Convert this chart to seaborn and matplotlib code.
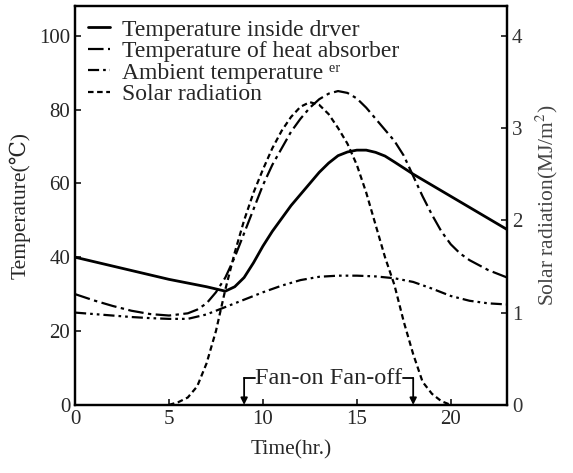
import matplotlib
matplotlib.use('Agg')
import matplotlib.pyplot as plt
import seaborn as sns

# Temperature inside dryer (solid)
t_dryer = [0, 1, 2, 3, 4, 5, 6, 7, 8, 8.5, 9, 9.5, 10, 10.5, 11, 11.5, 12, 12.5, 13,
           13.5, 14, 14.5, 15, 15.5, 16, 16.5, 17, 18, 19, 20, 21, 22, 23]
temp_dryer = [40, 38.8, 37.6, 36.4, 35.2, 34.0, 33.0, 32.0, 30.8, 32, 34.5, 38.5, 43, 47,
              50.5, 54, 57, 60, 63, 65.5, 67.5, 68.5, 69, 69, 68.4, 67.4, 65.8, 62.5, 59.5,
              56.5, 53.5, 50.5, 47.5]

# Temperature of heat absorber (dash-dot)
t_absorber = [0, 1, 2, 3, 4, 5, 6, 6.5, 7, 7.5, 8, 8.5, 9, 9.5, 10, 10.5, 11, 11.5, 12,
              12.5, 13, 13.5, 14, 14.5, 15, 15.5, 16, 16.5, 17, 17.5, 18, 18.5, 19,
              19.5, 20, 20.5, 21, 22, 23]
temp_absorber = [30, 28.3, 26.8, 25.5, 24.6, 24.2, 24.8, 25.8, 27.5, 30.5, 34.5, 40, 46.5,
                 53, 59.5, 65, 69.5, 74, 77.5, 80.5, 82.8, 84.3, 85, 84.5, 83, 80.5, 77.5,
                 74.5, 71.5, 67.5, 62, 56.5, 51.5, 47, 43.5, 41, 39.2, 36.5, 34.5]

# Ambient temperature (dash-dot-dot)
t_ambient = [0, 1, 2, 3, 4, 5, 6, 7, 8, 9, 10, 11, 12, 13, 14, 15, 16, 17, 18, 19, 20,
             21, 22, 23]
temp_ambient = [25, 24.6, 24.2, 23.8, 23.5, 23.3, 23.3, 24.5, 26.5, 28.5, 30.5, 32.3, 33.8,
                34.7, 35, 35, 34.8, 34.3, 33.3, 31.5, 29.5, 28.2, 27.5, 27.2]

# Solar radiation, MJ/m2 (dashed, right axis)
t_solar = [5, 5.5, 6, 6.5, 7, 7.5, 8, 8.5, 9, 9.5, 10, 10.5, 11, 11.5, 12, 12.5, 13,
           13.5, 14, 14.5, 15, 15.5, 16, 16.5, 17, 17.5, 18, 18.5, 19, 19.5, 20]
solar = [0, 0.03, 0.08, 0.2, 0.45, 0.8, 1.25, 1.65, 2.0, 2.3, 2.55, 2.78, 2.97, 3.12,
         3.23, 3.28, 3.25, 3.15, 3.0, 2.83, 2.6, 2.3, 1.95, 1.6, 1.3, 0.9, 0.55, 0.25,
         0.12, 0.04, 0]

fan_on, fan_off = 9, 18

sns.set_style('ticks')
plt.rcParams['font.family'] = ['Liberation Serif', 'DejaVu Serif']
plt.rcParams['mathtext.fontset'] = 'stix'

fig, ax = plt.subplots(figsize=(5.73, 4.73), dpi=100)
fig.subplots_adjust(left=0.131, right=0.885, bottom=0.144, top=0.987)
ax2 = ax.twinx()

sns.lineplot(x=t_dryer, y=temp_dryer, ax=ax, color='black', lw=2.0,
             label='Temperature inside drver', legend=False)
sns.lineplot(x=t_absorber, y=temp_absorber, ax=ax, color='black', lw=1.6,
             linestyle=(0, (7, 2, 1.5, 2)), label='Temperature of heat absorber', legend=False)
sns.lineplot(x=t_ambient, y=temp_ambient, ax=ax, color='black', lw=1.6,
             linestyle=(0, (5, 1.8, 1.2, 1.8, 1.2, 1.8)),
             label='Ambient temperature \u1d49\u02b3', legend=False)
sns.lineplot(x=t_solar, y=solar, ax=ax2, color='black', lw=1.6,
             linestyle=(0, (2.5, 1.6)), label='Solar radiation', legend=False)

ax.set_xlim(0, 23)
ax.set_ylim(0, 108)
ax2.set_ylim(0, 4.32)
ax.set_xticks([0, 5, 10, 15, 20])
ax.set_yticks([0, 20, 40, 60, 80, 100])
ax2.set_yticks([0, 1, 2, 3, 4])

for a in (ax, ax2):
    a.tick_params(direction='in', length=4, width=1.3, labelsize=15)
    for s in a.spines.values():
        s.set_visible(True)
        s.set_linewidth(1.6)
        s.set_color('black')
ax2.tick_params(labelcolor='#333333')

ax.set_xlabel('Time(hr.)', fontsize=15.5, labelpad=8)
ax.set_ylabel('Temperature(\u2103)', fontsize=15.5, labelpad=6)
ax2.set_ylabel('Solar radiation(MJ/m$^2$)', fontsize=15.5, labelpad=8, color='#444444')

handles = ax.get_lines()[:3] + ax2.get_lines()[:1]
ax.legend(handles=handles, labels=[h.get_label() for h in handles], loc='upper left',
          fontsize=17, frameon=False, handlelength=0.95, handletextpad=0.5,
          labelspacing=0.0, borderaxespad=0.25, borderpad=0.3)

# Fan-on / Fan-off markers
ax.text(13.5, 7.2, 'Fan-on Fan-off', fontsize=17.5, ha='center', va='center')
ax.plot([fan_on, 9.6], [7.2, 7.2], color='black', lw=1.3)
ax.plot([17.45, fan_off], [7.2, 7.2], color='black', lw=1.3)
for xf in (fan_on, fan_off):
    ax.annotate('', xy=(xf, 0), xytext=(xf, 7.3),
                arrowprops=dict(arrowstyle='-|>', color='black', lw=1.3, mutation_scale=10,
                                shrinkA=0, shrinkB=0))

plt.savefig('out.png', dpi=100)
